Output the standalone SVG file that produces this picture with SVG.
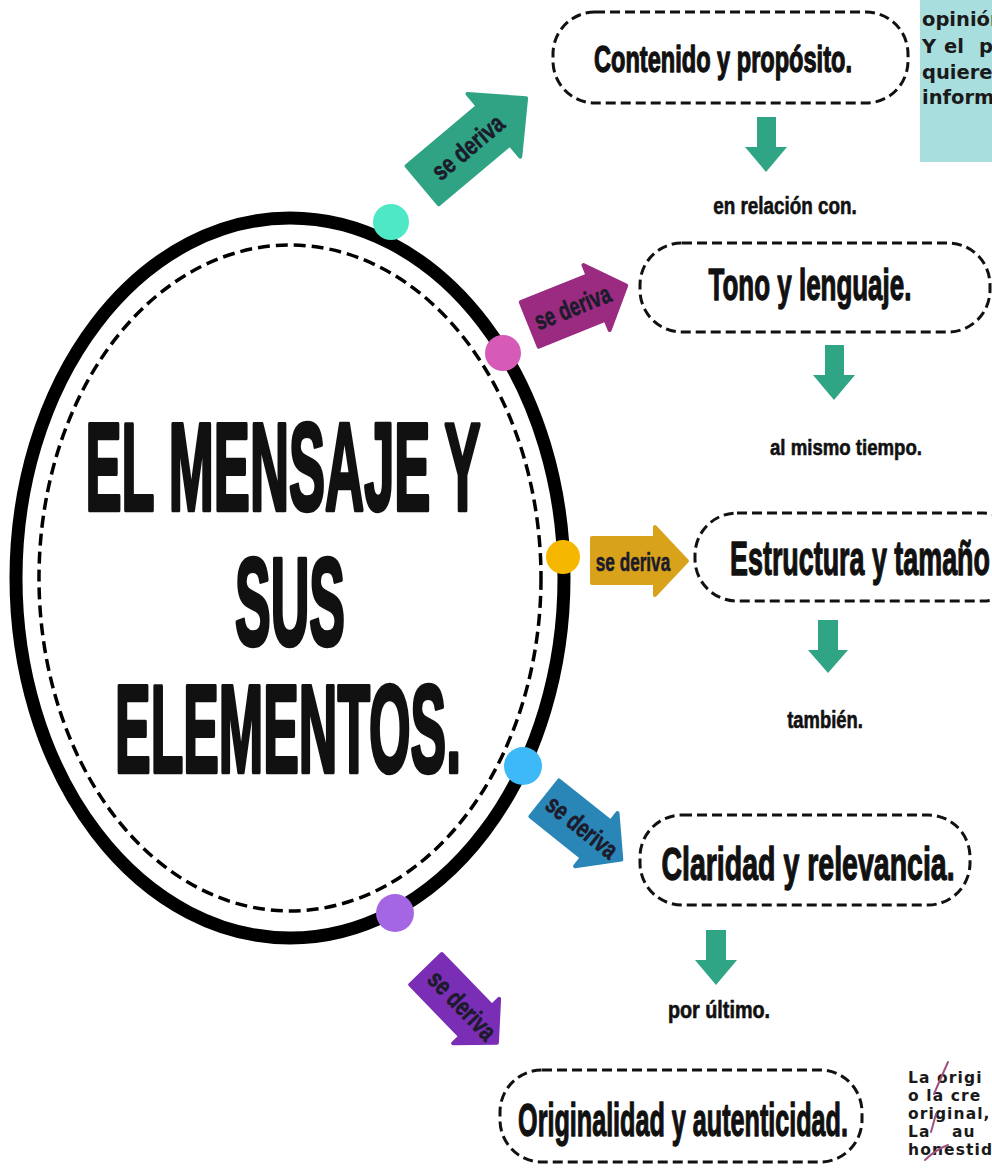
<svg xmlns="http://www.w3.org/2000/svg" width="992" height="1169" viewBox="0 0 992 1169">
<defs>
<style>
.cond{font-family:"Liberation Sans",Arial,sans-serif;font-weight:bold;fill:#111;stroke:#111;stroke-linejoin:round;text-anchor:middle}
.title{font-size:125px;stroke-width:4.5px}
.box{fill:#fff;stroke:#111;stroke-width:3;stroke-dasharray:10 5}
.btxt{stroke-width:1.3px}
.lbl{font-size:23px;stroke-width:0.6px}
.der{font-size:26px;stroke-width:0.6px;fill:#1b1b2b;stroke:#1b1b2b}
.down{fill:#30A586}
.note{font-family:"DejaVu Sans","Noto Sans",sans-serif;font-weight:bold;fill:#1a1a1a}
.nb{font-size:15.5px;letter-spacing:1.1px}
</style>
</defs>
<rect width="992" height="1169" fill="#fff"/>

<g id="note-top">
<rect x="920" y="0" width="80" height="162" fill="#A9DEDF"/>
<text class="note" font-size="19.5" x="922" y="26">opinión</text>
<text class="note" font-size="19.5" x="922" y="53">Y</text>
<text class="note" font-size="19.5" x="944" y="53">el</text>
<text class="note" font-size="19.5" x="979" y="53">p</text>
<text class="note" font-size="19.5" x="922" y="79">quiere</text>
<text class="note" font-size="19.5" x="922" y="104">inform</text>
</g>

<g id="center">
<ellipse cx="290" cy="578" rx="274" ry="360" fill="#fff" stroke="#000" stroke-width="13"/>
<ellipse cx="290" cy="578" rx="251" ry="333" fill="none" stroke="#000" stroke-width="3.5" stroke-dasharray="12 6"/>
<text class="cond title" transform="translate(283,510) scale(0.433,1)">EL MENSAJE Y</text>
<text class="cond title" transform="translate(290,645) scale(0.428,1)">SUS</text>
<text class="cond title" transform="translate(288,772) scale(0.427,1)">ELEMENTOS.</text>
</g>

<g id="dots">
<circle cx="391" cy="222" r="18" fill="#4EE8C6"/>
<circle cx="503" cy="353" r="18" fill="#D65AB8"/>
<circle cx="563" cy="557" r="17" fill="#F5B700"/>
<circle cx="523" cy="766" r="19" fill="#3CB9F6"/>
<circle cx="395" cy="913" r="19" fill="#A466E3"/>
</g>

<g id="connectors">
<g transform="translate(474,142) rotate(-40)">
<path d="M-67,-25 L26,-25 L26,-41 L68,0 L26,41 L26,25 L-67,25 Z" fill="#2FA383" stroke="#2FA383" stroke-width="4" stroke-linejoin="round"/>
<text class="cond der" transform="translate(-8,9) scale(0.76,1)">se deriva</text>
</g>
<g transform="translate(578,305) rotate(-22)">
<path d="M-52,-24 L20,-24 L20,-35 L52,0 L20,35 L20,24 L-52,24 Z" fill="#9B2B80" stroke="#9B2B80" stroke-width="4" stroke-linejoin="round"/>
<text class="cond der" transform="translate(-6,9) scale(0.71,1)">se deriva</text>
</g>
<g>
<path d="M592,538 L655,538 L655,527 L687,561 L655,595 L655,583 L592,583 Z" fill="#D9A21B" stroke="#D9A21B" stroke-width="4" stroke-linejoin="round"/>
<text class="cond der" font-size="28" transform="translate(633,571) scale(0.66,1)">se deriva</text>
</g>
<g transform="translate(583,829) rotate(38.6)">
<path d="M-49,-23 L17,-23 L17,-34 L49,0 L17,34 L17,23 L-49,23 Z" fill="#2B86B8" stroke="#2B86B8" stroke-width="4" stroke-linejoin="round"/>
<text class="cond der" transform="translate(-2,8) scale(0.745,1)">se deriva</text>
</g>
<g transform="translate(461.5,1006) rotate(46)">
<path d="M-51,-22 L21,-22 L21,-32 L51,0 L21,32 L21,22 L-51,22 Z" fill="#7A2DB5" stroke="#7A2DB5" stroke-width="4" stroke-linejoin="round"/>
<text class="cond der" font-size="25" transform="translate(0,8) scale(0.76,1)">se deriva</text>
</g>

<path class="down" d="M757,117 L776,117 L776,147 L787,147 L766,172 L745,147 L757,147 Z"/>
<text class="cond lbl" transform="translate(785,214) scale(0.82,1)">en relación con.</text>
<path class="down" d="M825,345 L844,345 L844,375 L855,375 L834,400 L813,375 L825,375 Z"/>
<text class="cond lbl" transform="translate(846,455) scale(0.81,1)">al mismo tiempo.</text>
<path class="down" d="M818,620 L838,620 L838,650 L848,650 L828,673 L808,650 L818,650 Z"/>
<text class="cond lbl" transform="translate(825,728) scale(0.8,1)">también.</text>
<path class="down" d="M706,930 L726,930 L726,960 L737,960 L716,985 L695,960 L706,960 Z"/>
<text class="cond lbl" transform="translate(719,1018) scale(0.86,1)">por último.</text>
</g>

<g id="node-contenido">
<rect class="box" x="553" y="12" width="355" height="91" rx="42"/>
<text class="cond btxt" font-size="37" transform="translate(723,72) scale(0.637,1)">Contenido y propósito.</text>
</g>
<g id="node-tono">
<rect class="box" x="640" y="243" width="350" height="89" rx="42"/>
<text class="cond btxt" font-size="44" transform="translate(810,300) scale(0.59,1)">Tono y lenguaje.</text>
</g>
<g id="node-estructura">
<rect class="box" x="695" y="513" width="330" height="88" rx="42"/>
<text class="cond btxt" font-size="48" transform="translate(860,575) scale(0.56,1)">Estructura y tamaño</text>
</g>
<g id="node-claridad">
<rect class="box" x="640" y="815" width="330" height="90" rx="42"/>
<text class="cond btxt" font-size="46" transform="translate(808,880) scale(0.62,1)">Claridad y relevancia.</text>
</g>
<g id="node-originalidad">
<rect class="box" x="500" y="1070" width="362" height="92" rx="42"/>
<text class="cond btxt" font-size="46" transform="translate(683,1136) scale(0.547,1)">Originalidad y autenticidad.</text>
</g>

<g id="note-bottom">
<text class="note nb" x="908" y="1083">La origi</text>
<text class="note nb" x="908" y="1101">o la cre</text>
<text class="note nb" x="908" y="1119">original,</text>
<text class="note nb" x="908" y="1137">La</text>
<text class="note nb" x="952" y="1137">au</text>
<text class="note nb" x="908" y="1155">honestid</text>
<g fill="none" stroke="#A0527E" stroke-width="2" stroke-linecap="round">
<path d="M948,1062 Q940,1080 934,1094"/>
<path d="M936,1114 L931,1132"/>
<path d="M925,1160 Q935,1150 948,1145"/>
</g>
</g>
</svg>
